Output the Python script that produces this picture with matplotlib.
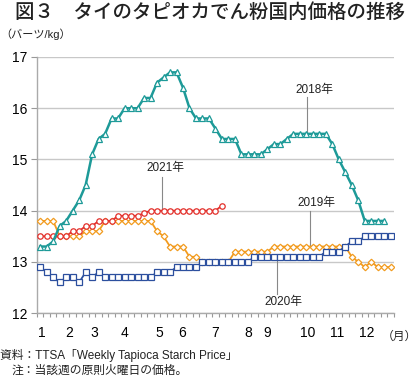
import matplotlib
matplotlib.use("Agg")
import matplotlib.pyplot as plt
import numpy as np

plt.rcParams['font.family'] = ['Liberation Sans', 'Noto Sans CJK JP']

# weekly prices (baht/kg), one value per week starting early January
y2018 = [13.3, 13.3, 13.4, 13.7, 13.8, 14.0, 14.2, 14.5, 15.1, 15.4,
         15.5, 15.8, 15.8, 16.0, 16.0, 16.0, 16.2, 16.2, 16.5, 16.6,
         16.7, 16.7, 16.4, 16.0, 15.8, 15.8, 15.8, 15.6, 15.4, 15.4,
         15.4, 15.1, 15.1, 15.1, 15.1, 15.2, 15.3, 15.3, 15.4, 15.5,
         15.5, 15.5, 15.5, 15.5, 15.5, 15.3, 15.0, 14.75, 14.5, 14.2,
         13.8, 13.8, 13.8, 13.8]
y2019 = [13.8, 13.8, 13.8, 13.5, 13.5, 13.5, 13.5, 13.6, 13.6, 13.6,
         13.8, 13.8, 13.8, 13.8, 13.8, 13.8, 13.8, 13.8, 13.6, 13.5,
         13.3, 13.3, 13.3, 13.1, 13.1, 13.0, 13.0, 13.0, 13.0, 13.0,
         13.2, 13.2, 13.2, 13.2, 13.2, 13.2, 13.3, 13.3, 13.3, 13.3,
         13.3, 13.3, 13.3, 13.3, 13.3, 13.3, 13.3, 13.3, 13.1, 13.0,
         12.9, 13.0, 12.9, 12.9, 12.9]
y2020 = [12.9, 12.8, 12.7, 12.6, 12.7, 12.7, 12.6, 12.8, 12.7, 12.8,
         12.7, 12.7, 12.7, 12.7, 12.7, 12.7, 12.7, 12.7, 12.8, 12.8,
         12.8, 12.9, 12.9, 12.9, 12.9, 13.0, 13.0, 13.0, 13.0, 13.0,
         13.0, 13.0, 13.0, 13.1, 13.1, 13.1, 13.1, 13.1, 13.1, 13.1,
         13.1, 13.1, 13.1, 13.1, 13.2, 13.2, 13.2, 13.3, 13.4, 13.4,
         13.5, 13.5, 13.5, 13.5, 13.5]
y2021 = [13.5, 13.5, 13.5, 13.5, 13.5, 13.6, 13.6, 13.7, 13.7, 13.8,
         13.8, 13.8, 13.9, 13.9, 13.9, 13.9, 13.95, 14.0, 14.0, 14.0,
         14.0, 14.0, 14.0, 14.0, 14.0, 14.0, 14.0, 14.0, 14.1]

n_weeks = 55
month_labels = ['1', '2', '3', '4', '5', '6', '7', '8', '9', '10', '11', '12']
month_pos = [0.3, 4.4, 8.3, 13, 18.4, 21.8, 27, 32, 35, 41.2, 45.8, 50.3]

# (series, colour, marker, size, line width)
series = [
    (y2019, '#f29b1f', 'D', 3.3, 1.3),
    (y2020, '#2c4f9e', 's', 3.7, 1.3),
    (y2021, '#e3302b', 'o', 3.9, 1.3),
    (y2018, '#1d9a98', '^', 4.3, 1.8),
]

# year labels: text, text x, text y, leader x, leader y0, leader y1
year_labels = [
    ('2018年', 42.3, 16.36, 41.1, 16.22, 15.5),
    ('2019年', 42.6, 14.15, 41.5, 13.99, 13.3),
    ('2020年', 37.5, 12.21, 36.5, 12.38, 13.1),
    ('2021年', 19.3, 14.83, 18.7, 14.66, 14.0),
]

fig = plt.figure(figsize=(4.2, 3.8), dpi=100)
ax = fig.add_axes([0.088, 0.176, 0.85, 0.674])

for vals, col, mk, ms, lw in series:
    ax.plot(np.arange(len(vals)), vals, color=col, lw=lw, marker=mk, ms=ms,
            mfc='white', mec=col, mew=0.9, zorder=3)

for txt, tx, ty, lx, ly0, ly1 in year_labels:
    ax.plot([lx, lx], [ly0, ly1], color='#888888', lw=0.8, zorder=2)
    ax.text(tx, ty, txt, fontsize=8.5, ha='center', va='center', color='#222222')

ax.set_xlim(-0.5, n_weeks - 0.5)
ax.set_ylim(12, 17)
ax.set_yticks([12, 13, 14, 15, 16, 17])
ax.grid(axis='y', color='#c8c8c8', lw=1.0)
ax.set_axisbelow(True)

ax.set_xticks(month_pos)
ax.set_xticklabels(month_labels)
ax.set_xticks(np.arange(-0.5, n_weeks, 1), minor=True)
ax.tick_params(axis='x', which='major', length=0, pad=9, labelsize=10)
ax.tick_params(axis='x', which='minor', length=3, color='#999999', width=0.8)
ax.tick_params(axis='y', length=4, color='#999999', width=0.8, labelsize=10, pad=3)

for s in ['top', 'right']:
    ax.spines[s].set_visible(False)
for s in ['left', 'bottom']:
    ax.spines[s].set_color('#aaaaaa')
    ax.spines[s].set_linewidth(1.0)

fig.text(0.035, 0.968, '図３　タイのタピオカでん粉国内価格の推移', fontsize=14,
         fontweight='medium', va='center', ha='left', color='#222222')
fig.text(0.0, 0.91, '（バーツ/kg）', fontsize=8, va='center', ha='left', color='#222222')
fig.text(0.91, 0.113, '（月）', fontsize=8.5, va='center', ha='left', color='#222222')
fig.text(0.0, 0.065, '資料：TTSA「Weekly Tapioca Starch Price」', fontsize=8.5,
         va='center', ha='left', color='#222222')
fig.text(0.028, 0.025, '注：当該週の原則火曜日の価格。', fontsize=8.5,
         va='center', ha='left', color='#222222')

fig.savefig('out.png', dpi=100)
